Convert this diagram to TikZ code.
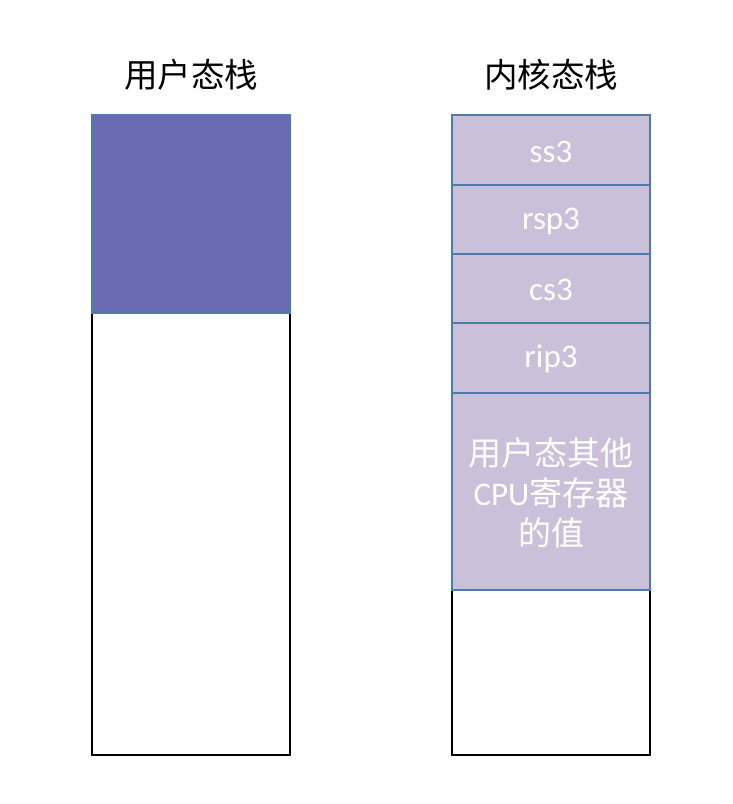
\documentclass[tikz,border=0pt]{standalone}
\usepackage{fontspec}
\setmainfont{Carlito}
\newfontfamily\cjk{Noto Sans CJK SC}
\definecolor{darkpurple}{HTML}{6A6AB2}
\definecolor{lightpurple}{HTML}{CBC0DA}
\definecolor{cellborder}{HTML}{4F7BA8}
\tikzset{
  usercell/.style={fill=darkpurple, draw=cellborder, line width=1.5pt},
  kcell/.style={fill=lightpurple, draw=cellborder, line width=1.5pt},
  emptycell/.style={fill=white, draw=black, line width=1.5pt},
  celltext/.style={text=white, font=\fontsize{33}{40}\selectfont, align=center},
  title/.style={text=black, font=\cjk\fontsize{33.5}{40}\selectfont}
}
\begin{document}
\begin{tikzpicture}[x=1pt,y=-1pt]
\useasboundingbox (0,0) rectangle (732,804);
% titles
\node[title] (t1) at (191,75) {用户态栈};
\node[title] (t2) at (551,75) {内核态栈};
% user stack
\draw[emptycell] (92,313) rectangle (290,755);
\draw[usercell] (92,115) rectangle (290,313);
% kernel stack
\draw[emptycell] (452,590) rectangle (650,755);
\draw[kcell] (452,115) rectangle (650,185);
\draw[kcell] (452,185) rectangle (650,254);
\draw[kcell] (452,254) rectangle (650,323);
\draw[kcell] (452,323) rectangle (650,393);
\draw[kcell] (452,393) rectangle (650,590);
\node[celltext] (ss) at (551,152) {ss3};
\node[celltext] (rsp) at (551,221) {rsp3};
\node[celltext] (cs) at (551,290) {cs3};
\node[celltext] (rip) at (551,359) {rip3};
\node[celltext] (other) at (551,493) {{\cjk 用户态其他}\\CPU{\cjk 寄存器}\\{\cjk 的值}};
\end{tikzpicture}
\end{document}
